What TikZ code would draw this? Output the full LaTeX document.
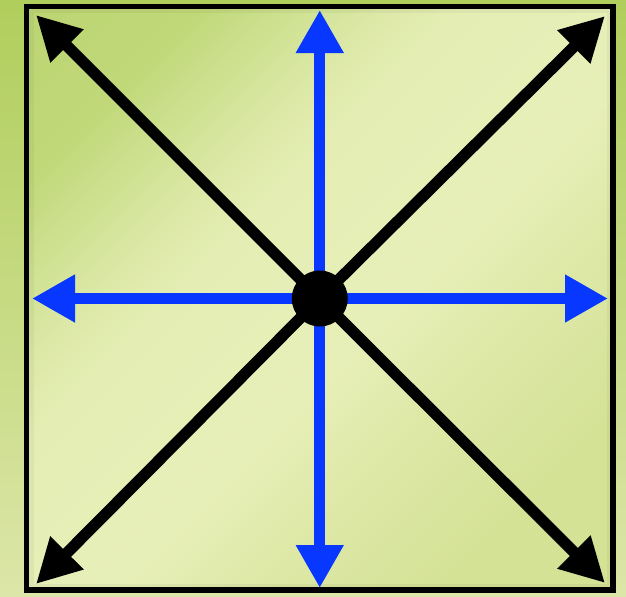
\documentclass[tikz,border=0pt]{standalone}
\usetikzlibrary{arrows.meta}
\definecolor{bluearrow}{RGB}{8,56,255}
\definecolor{gA}{HTML}{B8D26C}
\definecolor{gB}{HTML}{C0D878}
\definecolor{gC}{HTML}{CCE08E}
\definecolor{gD}{HTML}{DCE8A6}
\definecolor{gE}{HTML}{E4EEB4}
\definecolor{gF}{HTML}{E7EFB8}
\definecolor{gG}{HTML}{DDE8A6}
\definecolor{gH}{HTML}{D4E296}
\definecolor{stripTop}{HTML}{B0CE5C}
\definecolor{stripMid}{HTML}{C0D87A}
\definecolor{stripBot}{HTML}{DCE6A8}
\pgfdeclarehorizontalshading{panel}{100bp}{color(0bp)=(gA); color(25bp)=(gB); color(30bp)=(gC);
  color(36bp)=(gD); color(41bp)=(gE); color(55bp)=(gF); color(64bp)=(gG); color(75bp)=(gH); color(100bp)=(gH)}

\begin{document}
\begin{tikzpicture}[
    x=0.3mm, y=-0.3mm,
    frame/.style={draw, line width=1.65mm, minimum width=175.9mm, minimum height=175.1mm, inner sep=0pt},
    hub/.style={circle, fill=black, minimum size=16.8mm, inner sep=0pt},
    diag/.style={line width=3.4mm, -{Triangle[length=13.2mm, width=13.2mm]}},
    axis/.style={bluearrow, line width=3.3mm, -{Triangle[length=12.9mm, width=13.5mm]}}
]
    \useasboundingbox (0,0) rectangle (626,596);
    % background
    \shade[top color=stripTop, middle color=stripMid, bottom color=stripBot]
        (0,0) rectangle (626,596);
    \shade[shading=panel, shading angle=-45] (27,7) rectangle (613,590);
    \draw[black, opacity=0.04, line width=1.5mm] (31,11) rectangle (609,586);

    \node[frame] (box) at (319.75,298.25) {};
    \coordinate (o) at (319.75,298.5);

    % ends of the arrows
    \coordinate (nw) at (36,15);
    \coordinate (ne) at (605,16);
    \coordinate (sw) at (36,584);
    \coordinate (se) at (605,583);
    \coordinate (n) at (319.75,10);
    \coordinate (s) at (319.75,588);
    \coordinate (w) at (32,298.5);
    \coordinate (e) at (608,298.5);

    \draw[diag] (o) -- (nw);
    \draw[diag] (o) -- (ne);
    \draw[diag] (o) -- (sw);
    \draw[diag] (o) -- (se);
    \draw[axis] (o) -- (n);
    \draw[axis] (o) -- (s);
    \draw[axis] (o) -- (w);
    \draw[axis] (o) -- (e);

    \node[hub] (dot) at (o) {};
\end{tikzpicture}
\end{document}
